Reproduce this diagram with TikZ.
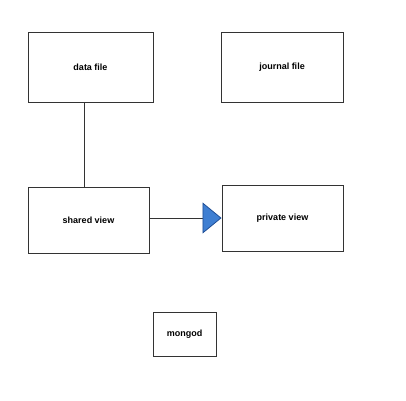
\documentclass[tikz,border=0pt]{standalone}
\usepackage{fontspec}
\setmainfont{Liberation Sans}
\usetikzlibrary{arrows.meta}
\definecolor{tipfill}{HTML}{3F7FD2}
\definecolor{tipdraw}{HTML}{1F4E96}
\tikzset{
  box/.style={draw=black!80, line width=0.9pt, inner sep=0pt, font=\fontsize{9}{10}\selectfont\bfseries},
  link/.style={draw=black!80, line width=0.8pt},
}
\begin{document}
\begin{tikzpicture}[x=1pt,y=-1pt]
\useasboundingbox (0,0) rectangle (406,400);
\node[box, minimum width=125pt, minimum height=70pt] (data) at (90.5,67) {data file};
\node[box, minimum width=122pt, minimum height=70pt] (journal) at (282,67) {journal file};
\node[box, minimum width=121pt, minimum height=66pt] (shared) at (88.5,220) {shared view};
\node[box, minimum width=121pt, minimum height=66pt] (private) at (282.5,218) {private view};
\node[box, minimum width=63pt, minimum height=44pt] (mongod) at (184.5,334) {mongod};
\draw[link] (data.south) ++(-6,0) coordinate (dtop) -- (dtop |- shared.north);
\draw[link, -{Triangle[length=19pt, width=31pt, fill=tipfill, color=tipdraw, line width=0.8pt]}] (shared.east |- private.west) -- (private.west);
\end{tikzpicture}
\end{document}
